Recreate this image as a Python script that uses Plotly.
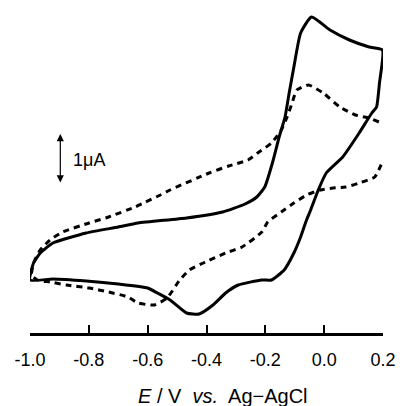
import plotly.graph_objects as go

# Potential (V vs Ag-AgCl) and current (uA, arbitrary offset) -- solid CV
solid_E = [-1.0, -0.922, -0.809, -0.700, -0.600, -0.567, -0.524, -0.468, -0.425, -0.378,
           -0.335, -0.292, -0.212, -0.179, -0.136, -0.103, -0.080, -0.060, -0.046, -0.020,
           0.007, 0.063, 0.119, 0.162, 0.178, 0.188, 0.198,
           0.153, 0.086, 0.020, -0.043, -0.080, -0.103, -0.119, -0.133, -0.153, -0.176,
           -0.202, -0.229, -0.269, -0.345, -0.468, -0.633, -0.700, -0.809, -0.922, -0.965,
           -0.988, -1.0]
solid_I = [1.02, 1.04, 1.00, 0.94, 0.86, 0.76, 0.62, 0.36, 0.34, 0.52,
           0.76, 0.92, 1.02, 1.02, 1.22, 1.56, 1.88, 2.22, 2.42, 2.82,
           3.16, 3.48, 3.96, 4.36, 4.48, 4.96, 5.62,
           5.68, 5.82, 6.02, 6.28, 5.96, 5.28, 4.76, 4.28, 3.88, 3.36,
           2.88, 2.68, 2.54, 2.38, 2.26, 2.16, 2.08, 1.96, 1.76, 1.56,
           1.36, 1.02]

# dashed CV (starts at the right edge, runs anodic->cathodic->back)
dash_E = [0.186, 0.153, 0.106, 0.053, -0.003, -0.053, -0.093, -0.109, -0.126, -0.146,
          -0.179, -0.226, -0.259, -0.325, -0.391, -0.524, -0.557, -0.607, -0.643, -0.733,
          -0.799, -0.889, -0.932, -0.965, -0.985, -0.995, -0.975, -0.932, -0.876, -0.799,
          -0.733, -0.667, -0.633, -0.577, -0.534, -0.491, -0.458, -0.411, -0.335, -0.279,
          -0.212, -0.192, -0.146, -0.103, -0.060, -0.013, 0.030, 0.073, 0.119, 0.172, 0.196]
dash_I = [4.18, 4.26, 4.32, 4.48, 4.76, 4.92, 4.82, 4.56, 4.28, 4.02,
          3.76, 3.56, 3.42, 3.30, 3.16, 2.82, 2.72, 2.58, 2.48, 2.28,
          2.16, 1.98, 1.82, 1.62, 1.40, 1.12, 1.02, 0.98, 0.92, 0.86,
          0.78, 0.68, 0.56, 0.52, 0.66, 1.02, 1.22, 1.36, 1.56, 1.68,
          1.98, 2.18, 2.38, 2.56, 2.72, 2.82, 2.86, 2.88, 2.96, 3.08, 3.36]

tick_vals = [-1.0, -0.8, -0.6, -0.4, -0.2, 0.0, 0.2]
tick_labels = ["-1.0", "-0.8", "-0.6", "-0.4", "-0.2", "0.0", "0.2"]

scale_E = -0.897
scale_I = [2.94, 3.94]

FONT = "Liberation Sans, Arial"

fig = go.Figure()
fig.add_trace(go.Scatter(x=dash_E, y=dash_I, mode="lines",
                         line=dict(color="black", width=3, dash="6px,5px", shape="spline", smoothing=0.5),
                         showlegend=False, hoverinfo="skip"))
fig.add_trace(go.Scatter(x=solid_E, y=solid_I, mode="lines",
                         line=dict(color="black", width=3, shape="spline", smoothing=0.5),
                         showlegend=False, hoverinfo="skip"))

fig.add_annotation(x=scale_E, y=scale_I[1], ax=scale_E, ay=scale_I[0], xref="x", yref="y",
                   axref="x", ayref="y", text="", showarrow=True, arrowside="end+start",
                   arrowhead=2, arrowsize=1.2, arrowwidth=1.2, arrowcolor="black")
fig.add_annotation(x=-0.862, y=3.43, xref="x", yref="y", text="1μA",
                   showarrow=False, xanchor="left", yanchor="middle",
                   font=dict(family=FONT, size=18, color="black"))
fig.add_annotation(x=0.547, y=-0.196, xref="paper", yref="paper",
                   text="<i>E</i> / V  <i>vs.</i>  Ag−AgCl", showarrow=False,
                   xanchor="center", yanchor="middle",
                   font=dict(family=FONT, size=20, color="black"))

fig.update_xaxes(range=[-1.0, 0.2], showline=True, linewidth=2.5, linecolor="black",
                 ticks="inside", ticklen=8, tickwidth=2, tickcolor="black",
                 tickvals=tick_vals, ticktext=tick_labels, showgrid=False, zeroline=False,
                 tickfont=dict(family=FONT, size=18, color="black"),
                 ticklabelstandoff=9)
fig.update_yaxes(range=[-0.04, 6.42], visible=False, showgrid=False, zeroline=False)
fig.update_layout(width=406, height=406, margin=dict(l=30, r=15, t=10, b=73),
                  plot_bgcolor="white", paper_bgcolor="white")
fig.write_html("out.html", config={"displayModeBar": False},
               post_script="document.body.style.margin='0';document.body.style.overflow='hidden';")
